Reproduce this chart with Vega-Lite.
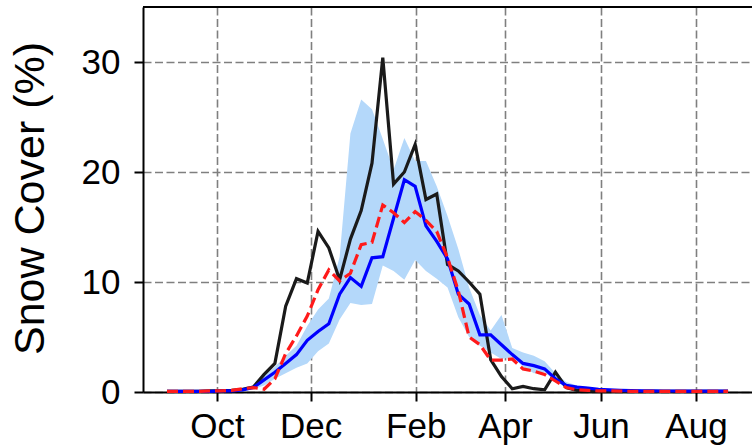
{
  "$schema": "https://vega.github.io/schema/vega-lite/v6.json",
  "width": 609,
  "height": 385,
  "autosize": {"type": "none"},
  "padding": {"left": 143, "top": 7, "right": 0, "bottom": 54},
  "background": "white",
  "config": {
    "view": {"stroke": null},
    "font": "Liberation Sans",
    "axis": {
      "grid": true,
      "gridColor": "#7f7f7f",
      "gridDash": [8, 3.5],
      "gridWidth": 1.6,
      "domainColor": "black",
      "domainWidth": 2,
      "tickColor": "black",
      "tickWidth": 2,
      "tickSize": 9,
      "labelFontSize": 35,
      "labelColor": "black",
      "labelFont": "Liberation Sans"
    },
    "axisX": {"labelPadding": 8},
    "axisY": {
      "labelPadding": 14,
      "titleFontSize": 43,
      "titleFontWeight": "normal",
      "titleColor": "black",
      "titleFont": "Liberation Sans",
      "titleX": -100,
      "titleY": 191,
      "titleAngle": 270,
      "titleAlign": "center",
      "titleBaseline": "alphabetic"
    }
  },
  "data": {"values": [
    {"w": 0, "obs": 0.05, "mean": 0.05, "alt": 0.05, "lo": 0.0, "hi": 0.1},
    {"w": 1, "obs": 0.05, "mean": 0.05, "alt": 0.05, "lo": 0.0, "hi": 0.1},
    {"w": 2, "obs": 0.05, "mean": 0.05, "alt": 0.05, "lo": 0.0, "hi": 0.1},
    {"w": 3, "obs": 0.05, "mean": 0.05, "alt": 0.05, "lo": 0.0, "hi": 0.1},
    {"w": 4, "obs": 0.1, "mean": 0.05, "alt": 0.1, "lo": 0.0, "hi": 0.15},
    {"w": 5, "obs": 0.1, "mean": 0.1, "alt": 0.1, "lo": 0.05, "hi": 0.2},
    {"w": 6, "obs": 0.15, "mean": 0.1, "alt": 0.15, "lo": 0.05, "hi": 0.25},
    {"w": 7, "obs": 0.25, "mean": 0.2, "alt": 0.3, "lo": 0.1, "hi": 0.35},
    {"w": 8, "obs": 0.45, "mean": 0.4, "alt": 0.4, "lo": 0.25, "hi": 0.6},
    {"w": 9, "obs": 1.6, "mean": 1.1, "alt": 0.25, "lo": 0.6, "hi": 1.5},
    {"w": 10, "obs": 2.6, "mean": 1.8, "alt": 1.2, "lo": 1.2, "hi": 2.3},
    {"w": 11, "obs": 7.8, "mean": 2.6, "alt": 3.5, "lo": 1.7, "hi": 3.3},
    {"w": 12, "obs": 10.3, "mean": 3.4, "alt": 5.1, "lo": 2.2, "hi": 4.2},
    {"w": 13, "obs": 9.9, "mean": 4.7, "alt": 6.9, "lo": 2.6, "hi": 6.0},
    {"w": 14, "obs": 14.6, "mean": 5.5, "alt": 9.3, "lo": 3.7, "hi": 7.5},
    {"w": 15, "obs": 13.1, "mean": 6.2, "alt": 11.1, "lo": 4.4, "hi": 8.5},
    {"w": 16, "obs": 10.2, "mean": 8.9, "alt": 10.1, "lo": 6.6, "hi": 12.3},
    {"w": 17, "obs": 13.9, "mean": 10.4, "alt": 10.8, "lo": 8.1, "hi": 23.5},
    {"w": 18, "obs": 16.5, "mean": 9.6, "alt": 13.4, "lo": 7.9, "hi": 26.6},
    {"w": 19, "obs": 20.8, "mean": 12.2, "alt": 13.6, "lo": 8.0, "hi": 25.7},
    {"w": 20, "obs": 30.4, "mean": 12.3, "alt": 17.0, "lo": 11.5, "hi": 23.0},
    {"w": 21, "obs": 18.9, "mean": 15.8, "alt": 16.3, "lo": 11.0, "hi": 20.2},
    {"w": 22, "obs": 20.0, "mean": 19.3, "alt": 15.4, "lo": 10.2, "hi": 23.1},
    {"w": 23, "obs": 22.5, "mean": 18.7, "alt": 16.4, "lo": 12.0, "hi": 21.0},
    {"w": 24, "obs": 17.5, "mean": 15.1, "alt": 15.6, "lo": 11.0, "hi": 21.0},
    {"w": 25, "obs": 18.0, "mean": 13.7, "alt": 14.6, "lo": 10.3, "hi": 18.7},
    {"w": 26, "obs": 11.6, "mean": 12.1, "alt": 12.2, "lo": 9.5, "hi": 16.0},
    {"w": 27, "obs": 11.0, "mean": 8.9, "alt": 9.2, "lo": 6.8, "hi": 13.0},
    {"w": 28, "obs": 10.0, "mean": 8.0, "alt": 5.0, "lo": 5.0, "hi": 9.5},
    {"w": 29, "obs": 8.9, "mean": 5.2, "alt": 4.3, "lo": 4.2, "hi": 7.0},
    {"w": 30, "obs": 2.95, "mean": 5.2, "alt": 2.9, "lo": 3.6, "hi": 5.6},
    {"w": 31, "obs": 1.4, "mean": 4.3, "alt": 2.9, "lo": 3.0, "hi": 7.0},
    {"w": 32, "obs": 0.3, "mean": 3.4, "alt": 3.0, "lo": 3.2, "hi": 4.0},
    {"w": 33, "obs": 0.5, "mean": 2.6, "alt": 2.1, "lo": 2.3, "hi": 3.6},
    {"w": 34, "obs": 0.3, "mean": 2.4, "alt": 1.9, "lo": 1.7, "hi": 3.3},
    {"w": 35, "obs": 0.2, "mean": 2.1, "alt": 1.6, "lo": 1.8, "hi": 2.8},
    {"w": 36, "obs": 1.8, "mean": 1.2, "alt": 1.0, "lo": 1.0, "hi": 1.7},
    {"w": 37, "obs": 0.4, "mean": 0.6, "alt": 0.4, "lo": 0.4, "hi": 0.9},
    {"w": 38, "obs": 0.15, "mean": 0.45, "alt": 0.2, "lo": 0.25, "hi": 0.6},
    {"w": 39, "obs": 0.1, "mean": 0.35, "alt": 0.15, "lo": 0.2, "hi": 0.45},
    {"w": 40, "obs": 0.1, "mean": 0.25, "alt": 0.1, "lo": 0.15, "hi": 0.35},
    {"w": 41, "obs": 0.08, "mean": 0.2, "alt": 0.1, "lo": 0.1, "hi": 0.3},
    {"w": 42, "obs": 0.06, "mean": 0.15, "alt": 0.08, "lo": 0.08, "hi": 0.25},
    {"w": 43, "obs": 0.05, "mean": 0.12, "alt": 0.06, "lo": 0.06, "hi": 0.2},
    {"w": 44, "obs": 0.05, "mean": 0.1, "alt": 0.05, "lo": 0.05, "hi": 0.18},
    {"w": 45, "obs": 0.05, "mean": 0.1, "alt": 0.05, "lo": 0.05, "hi": 0.16},
    {"w": 46, "obs": 0.05, "mean": 0.09, "alt": 0.05, "lo": 0.04, "hi": 0.15},
    {"w": 47, "obs": 0.05, "mean": 0.09, "alt": 0.05, "lo": 0.04, "hi": 0.15},
    {"w": 48, "obs": 0.05, "mean": 0.08, "alt": 0.05, "lo": 0.04, "hi": 0.14},
    {"w": 49, "obs": 0.05, "mean": 0.08, "alt": 0.05, "lo": 0.04, "hi": 0.14},
    {"w": 50, "obs": 0.05, "mean": 0.08, "alt": 0.05, "lo": 0.03, "hi": 0.13},
    {"w": 51, "obs": 0.05, "mean": 0.08, "alt": 0.05, "lo": 0.03, "hi": 0.13},
    {"w": 52, "obs": 0.05, "mean": 0.08, "alt": 0.05, "lo": 0.03, "hi": 0.13}
  ]},
  "encoding": {
    "x": {
      "field": "w",
      "type": "quantitative",
      "scale": {"domain": [-2.224, 54.22], "nice": false, "zero": false},
      "axis": {
        "values": [4.63, 13.31, 23.05, 31.33, 40.22, 49.03],
        "labelExpr": "datum.value < 9 ? 'Oct' : datum.value < 18 ? 'Dec' : datum.value < 27 ? 'Feb' : datum.value < 36 ? 'Apr' : datum.value < 45 ? 'Jun' : 'Aug'",
        "title": null
      }
    }
  },
  "layer": [
    {
      "mark": {"type": "area", "color": "#b4d8fa", "opacity": 1},
      "encoding": {
        "y": {
          "field": "lo",
          "type": "quantitative",
          "title": "Snow Cover (%)",
          "scale": {"domain": [0, 35], "nice": false},
          "axis": {"values": [0, 10, 20, 30]}
        },
        "y2": {"field": "hi"}
      }
    },
    {
      "mark": {"type": "line", "color": "#1a1a1a", "strokeWidth": 3.2},
      "encoding": {"y": {"field": "obs", "type": "quantitative", "title": "Snow Cover (%)", "axis": {"values": [0, 10, 20, 30]}}}
    },
    {
      "mark": {"type": "line", "color": "#0000ff", "strokeWidth": 3.2},
      "encoding": {"y": {"field": "mean", "type": "quantitative", "title": "Snow Cover (%)", "axis": {"values": [0, 10, 20, 30]}}}
    },
    {
      "mark": {"type": "line", "color": "#ff1a1a", "strokeWidth": 3.2, "strokeDash": [11, 5]},
      "encoding": {"y": {"field": "alt", "type": "quantitative", "title": "Snow Cover (%)", "axis": {"values": [0, 10, 20, 30]}}}
    },
    {
      "mark": {"type": "rule", "color": "black", "strokeWidth": 2},
      "encoding": {
        "x": {"datum": -2.224, "type": "quantitative"},
        "x2": {"datum": 54.22},
        "y": {"datum": 35, "type": "quantitative", "title": "Snow Cover (%)", "axis": {"values": [0, 10, 20, 30]}}
      }
    }
  ]
}
